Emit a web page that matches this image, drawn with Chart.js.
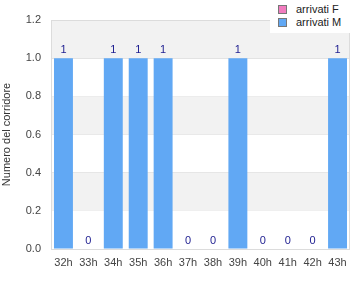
<!DOCTYPE html>
<html>
<head>
<meta charset="utf-8">
<script src="https://cdn.jsdelivr.net/npm/chart.js@4"></script>
<style>
body{margin:0;background:#fff;}
#wrap{position:relative;width:360px;height:300px;}
#legend{position:absolute;left:270px;top:0;width:90px;height:33px;background:#fff;
font:11px "Liberation Sans",Arial,sans-serif;color:#222;}
#legend div{position:absolute;left:8px;height:12px;line-height:12px;}
#legend span{display:inline-block;width:7px;height:7px;border:1px solid #777;margin-right:9px;vertical-align:-1px;}
</style>
</head>
<body>
<div id="wrap">
<canvas id="c" width="360" height="300"></canvas>
<div id="legend"></div>
</div>
<script>
const weeks = ["32h","33h","34h","35h","36h","37h","38h","39h","40h","41h","42h","43h"];
const arrivatiF = [null,null,null,null,null,null,null,null,null,null,null,null];
const arrivatiM = [1,0,1,1,1,0,0,1,0,0,0,1];
const yTicks = [0,0.2,0.4,0.6,0.8,1.0,1.2];

const colorF = "#f17cbf";
const colorM = "#61a8f4";

// fasce grigie alternate
const bands = {
  id:"bands",
  beforeDatasetsDraw(chart){
    const {ctx,chartArea:a,scales:{y}} = chart;
    ctx.save();
    ctx.fillStyle = "#f2f2f2";
    for(let i=1;i+1<yTicks.length;i+=2){
      const top = y.getPixelForValue(yTicks[i+1]);
      const bot = y.getPixelForValue(yTicks[i]);
      ctx.fillRect(a.left,top,a.right-a.left,bot-top);
    }
    ctx.restore();
  }
};

const frame = {
  id:"frame",
  afterDatasetsDraw(chart){
    const {ctx,chartArea:a} = chart;
    ctx.save();
    ctx.strokeStyle = "#dcdcdc";
    ctx.lineWidth = 1;
    ctx.strokeRect(a.left+0.5,a.top+0.5,a.right-a.left-1,a.bottom-a.top);
    ctx.restore();
  }
};

const valueLabels = {
  id:"valueLabels",
  afterDatasetsDraw(chart){
    const {ctx} = chart;
    const meta = chart.getDatasetMeta(1);
    ctx.save();
    ctx.font = '11px "Liberation Sans", Arial, sans-serif';
    ctx.fillStyle = "#1c1c8f";
    ctx.textAlign = "center";
    ctx.textBaseline = "bottom";
    meta.data.forEach((bar,i)=>{
      ctx.fillText(String(arrivatiM[i]),bar.x,bar.y-3);
    });
    ctx.restore();
  }
};

const ctx = document.getElementById("c");
new Chart(ctx,{
  type:"bar",
  data:{
    labels:weeks,
    datasets:[
      {label:"arrivati F",data:arrivatiF,backgroundColor:colorF},
      {label:"arrivati M",data:arrivatiM,backgroundColor:colorM}
    ]
  },
  options:{
    responsive:false,
    animation:false,
    devicePixelRatio:1,
    layout:{padding:{top:20,right:10,left:0,bottom:0}},
    datasets:{bar:{categoryPercentage:0.76,barPercentage:1}},
    plugins:{legend:{display:false},tooltip:{enabled:false}},
    scales:{
      x:{
        stacked:true,
        grid:{display:false,drawTicks:false},
        border:{display:false},
        ticks:{color:"#444",font:{family:"Liberation Sans",size:11},padding:7,maxRotation:0,autoSkip:false},
        afterFit(s){s.height = 51;}
      },
      y:{
        stacked:false,
        min:0,max:1.2,
        grid:{color:"#e0e0e0",drawTicks:false},
        border:{display:false},
        ticks:{stepSize:0.2,color:"#444",font:{family:"Liberation Sans",size:11},padding:10,
          callback:v=>v.toFixed(1)},
        title:{display:true,text:"Numero del corridore",color:"#333",font:{family:"Liberation Sans",size:11},padding:{top:0,bottom:2}},
        afterFit(s){s.width = 51;}
      }
    }
  },
  plugins:[bands,frame,valueLabels]
});

// legenda
const leg = document.getElementById("legend");
[["arrivati F",colorF],["arrivati M",colorM]].forEach((d,i)=>{
  const el = document.createElement("div");
  el.style.top = (3+i*13)+"px";
  el.innerHTML = '<span style="background:'+d[1]+'"></span>'+d[0];
  leg.appendChild(el);
});
</script>
</body>
</html>
